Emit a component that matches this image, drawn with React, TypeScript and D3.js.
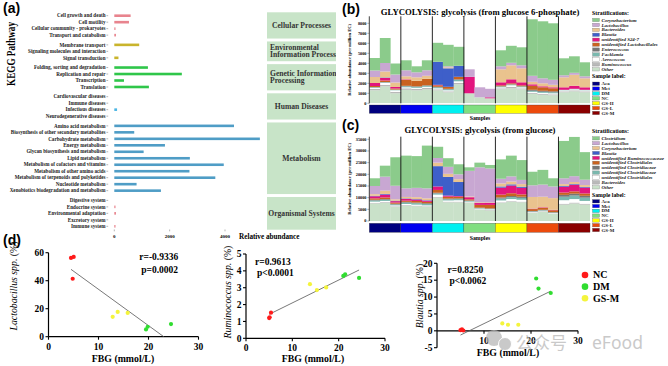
import React from "react";
import * as d3 from "d3";

const SERIF = "'Liberation Serif','DejaVu Serif',serif";
const SANS = "'Liberation Sans',Arial,sans-serif";

// ---------------- Panel (a) data ----------------
const keggClassLines = [
  ["Cellular Processes"],
  ["Environmental", "Information Processing"],
  ["Genetic Information", "Processing"],
  ["Human Diseases"],
  ["Metabolism"],
  ["Organismal Systems"],
];
const keggClassColors = ["#e8848e", "#c9b42c", "#2fc64a", "#4cb6e4", "#4f9dc6", "#e8848e"];
const keggPathways = [
  "Cell growth and death", "Cell motility", "Cellular community - prokaryotes", "Transport and catabolism",
  "Membrane transport", "Signaling molecules and interaction", "Signal transduction",
  "Folding, sorting and degradation", "Replication and repair", "Transcription", "Translation",
  "Cardiovascular diseases", "Immune diseases", "Infectious diseases", "Neurodegenerative diseases",
  "Amino acid metabolism", "Biosynthesis of other secondary metabolites", "Carbohydrate metabolism",
  "Energy metabolism", "Glycan biosynthesis and metabolism", "Lipid metabolism",
  "Metabolism of cofactors and vitamins", "Metabolism of other amino acids",
  "Metabolism of terpenoids and polyketides", "Nucleotide metabolism",
  "Xenobiotics biodegradation and metabolism",
  "Digestive system", "Endocrine system", "Environmental adaptation", "Excretory system", "Immune system",
];
const keggGroupIdx = [0, 0, 0, 0, 1, 1, 1, 2, 2, 2, 2, 3, 3, 3, 3, 4, 4, 4, 4, 4, 4, 4, 4, 4, 4, 4, 5, 5, 5, 5, 5];
const keggAbundance = [590, 530, 30, 60, 900, 0, 150, 1215, 2440, 350, 1250, 0, 0, 100, 0,
  4325, 720, 5260, 1830, 1060, 2730, 3955, 2715, 3650, 805, 1685, 0, 20, 60, 0, 10];
const keggTicks = [0, 2000, 4000];

// ---------------- Panels (b)/(c) shared ----------------
const sampleGroups = ["Aca", "Met", "DM", "NC", "GS-H", "GS-L", "GS-M"];
const sampleGroupColors = ["#00007f", "#0000f0", "#00f0f0", "#80de80", "#ffff00", "#ec4a0c", "#8b0000"];
const sampleIds = sampleGroups.flatMap((g) => [g + "1", g + "2", g + "3"]);
// stack colors, bottom -> top
const stackColors = ["#c9e1c9", "#b9b9b9", "#ffffff", "#7ab8ae", "#767676", "#c9621f", "#e2157e", "#3e5fc9", "#eac38e", "#c8a7d2", "#8bcb8b"];

// (b) glucose 6-phosphate, bottom -> top
const stratB = ["Other", "Ruminococcus", "Aerococcus", "Facklamia", "Enterococcus", "unidentified Lactobacillales",
  "unidentified S24-7", "Blautia", "Bacteroides", "Lactobacillus", "Corynebacterium"];
const otherB = [1300, 1700, 1000, 1350, 1300, 1400, 1300, 1100, 1900, 1000, 600, 500, 1400, 1500, 1400, 950, 850, 800, 1100, 1200, 1100];
const rumiB = [150, 150, 150, 150, 150, 150, 100, 100, 150, 0, 0, 0, 100, 150, 100, 100, 100, 100, 100, 100, 100];
const aeroB = [100, 200, 150, 100, 100, 100, 100, 100, 150, 0, 0, 0, 100, 150, 100, 100, 100, 100, 100, 100, 100];
const facklB = [50, 50, 50, 100, 100, 100, 100, 100, 150, 0, 0, 0, 100, 100, 100, 100, 100, 100, 50, 50, 50];
const enteroB = [30, 30, 30, 50, 50, 50, 50, 50, 50, 0, 0, 0, 0, 0, 0, 100, 100, 100, 0, 0, 0];
const lbalesB = [100, 150, 100, 600, 550, 650, 150, 200, 250, 0, 0, 0, 100, 100, 100, 400, 350, 300, 0, 0, 0];
const s24B = [300, 250, 150, 50, 0, 0, 50, 0, 0, 1650, 0, 100, 300, 400, 300, 150, 100, 100, 250, 300, 250];
const blautiaB = [0, 50, 0, 0, 0, 0, 2300, 1850, 1100, 0, 0, 0, 0, 0, 0, 0, 0, 0, 0, 0, 0];
const bactB = [600, 600, 450, 300, 350, 300, 0, 100, 0, 0, 0, 0, 1300, 1400, 1400, 250, 300, 250, 1000, 1100, 900];
const lactoB = [650, 850, 800, 600, 500, 550, 0, 100, 0, 750, 1000, 850, 300, 250, 300, 600, 500, 500, 200, 200, 200];
const coryneB = [1250, 2500, 1100, 1000, 600, 1000, 1900, 2150, 1900, 0, 0, 0, 1600, 1700, 1800, 5650, 5700, 5650, 1700, 1650, 1400];
const ticksB = [0, 1000, 2000, 3000, 4000, 5000, 6000, 7000, 8000];

// (c) glucose, bottom -> top
const stratC = ["Other", "Bacteroides", "unidentified Clostridiales", "unidentified Clostridiaceae", "unidentified Clostridiaceae",
  "unidentified Clostridiales", "unidentified Ruminococcaceae", "Blautia", "Corynebacterium", "Lactobacillus", "Clostridium"];
const otherC = [7500, 7800, 6000, 6500, 6300, 6000, 10000, 8000, 8000, 7800, 4800, 4500, 7700, 8200, 8000, 3500, 4000, 3000, 7000, 7500, 7000];
const bactC = [300, 300, 300, 300, 300, 300, 300, 300, 300, 200, 200, 200, 300, 300, 300, 200, 200, 200, 400, 400, 400];
const uClosWC = [500, 500, 400, 500, 400, 400, 1000, 500, 600, 300, 300, 300, 800, 900, 800, 200, 200, 200, 1500, 1500, 1200];
const uClaTC = [500, 500, 400, 600, 600, 600, 500, 500, 500, 300, 200, 200, 800, 800, 800, 200, 200, 200, 1500, 1500, 1400];
const uClaGC = [300, 300, 300, 300, 300, 300, 300, 300, 300, 200, 200, 200, 500, 500, 500, 200, 200, 200, 800, 800, 800];
const uClosOC = [600, 700, 500, 500, 700, 600, 1200, 800, 700, 500, 1200, 1500, 1200, 1200, 1000, 800, 900, 800, 1000, 1000, 1000];
const uRumC = [900, 1200, 600, 800, 600, 500, 1500, 500, 300, 900, 800, 900, 3000, 3300, 2800, 200, 200, 200, 2500, 2800, 2500];
const blautiaC = [200, 300, 200, 200, 200, 200, 8700, 8000, 6000, 0, 0, 0, 500, 500, 500, 0, 0, 0, 300, 300, 300];
const coryneC = [700, 1400, 600, 600, 800, 800, 1500, 1300, 1200, 300, 300, 200, 1300, 1200, 1100, 5000, 4500, 5000, 800, 900, 800];
const lactoC = [3500, 6000, 5800, 3700, 4000, 4300, 2000, 3000, 2100, 11000, 15000, 14500, 2000, 2200, 1800, 5000, 5200, 5000, 2500, 2500, 2300];
const clostC = [3300, 4700, 12200, 14000, 13600, 18300, 4800, 3700, 4300, 1500, 2000, 1500, 8300, 8900, 8500, 5800, 6300, 3500, 16000, 16900, 11800];
const ticksC = [0, 5000, 10000, 15000, 20000, 25000, 30000, 35000];

// ---------------- Panel (d) data ----------------
const fbgLacto = [4.5, 5.04, 4.84, 12.84, 13.84, 15.84, 19.5, 19.84, 24.5];
const lactoPct = [56.3, 57, 41.4, 14.2, 17.7, 17.0, 5.2, 7.1, 9.0];
const fbgRumi = [5.0, 5.1, 5.4, 13.8, 15.3, 17.3, 21.0, 21.4, 24.4];
const rumiPct = [1.2, 1.25, 1.52, 3.21, 2.86, 3.02, 3.7, 3.8, 3.58];
const fbgBlautia = [5.0, 5.3, 5.6, 13.9, 15.1, 17.3, 21.1, 21.6, 24.2];
const blautiaPct = [0.2, 0.4, 0.1, 2.2, 1.8, 1.8, 15.5, 12.5, 11.2];
const pointGroup = [0, 0, 0, 2, 2, 2, 1, 1, 1];
const dGroups = ["NC", "DM", "GS-M"];
const dGroupColors = ["#ff1a1a", "#30dd30", "#f4f43c"];

// ---------------- Components ----------------
function PanelA() {
  const x = d3.scaleLinear().domain([0, 4000]).range([114.3, 225]);
  const slots = keggPathways.map((_, i) => i + keggGroupIdx[i] * 0.5);
  const y = d3.scaleLinear().domain([0, 32.5]).range([15.7, 226.3]);
  const boxes = keggClassLines.map((lines, g) => {
    const idx = keggGroupIdx.map((k, i) => (k === g ? i : -1)).filter((i) => i >= 0);
    const y0 = y(slots[idx[0]]) - 3.4;
    const y1 = y(slots[idx[idx.length - 1]]) + 3.4;
    return { lines, y0, y1 };
  });
  return (
    <g fontFamily={SERIF}>
      <text x={3} y={13} fontFamily={SANS} fontWeight="bold" fontSize={14}>(a)</text>
      <text transform="translate(15,54) rotate(-90)" textAnchor="middle" fontWeight="bold" fontSize={11.5}
        textLength={64} lengthAdjust="spacingAndGlyphs">KEGG Pathway</text>
      {keggPathways.map((p, i) => (
        <g key={p + i}>
          <text x={105.5} y={y(slots[i]) + 1.7} textAnchor="end" fontSize={5.1} fontWeight="bold" fill="#222">{p}</text>
          <line x1={106.4} x2={108.2} y1={y(slots[i])} y2={y(slots[i])} stroke="#444" strokeWidth={0.4} />
          {keggAbundance[i] > 0 && (
            <rect x={x(0)} y={y(slots[i]) - 1.3} width={Math.max(x(keggAbundance[i]) - x(0), 1.2)} height={2.6}
              fill={keggClassColors[keggGroupIdx[i]]} />
          )}
        </g>
      ))}
      {keggTicks.map((t) => (
        <g key={t}>
          <line x1={x(t)} x2={x(t)} y1={229.5} y2={231.3} stroke="#444" strokeWidth={0.4} />
          <text x={x(t)} y={237.6} textAnchor="middle" fontSize={5} fontWeight="bold">{t}</text>
        </g>
      ))}
      <text x={239} y={238.8} fontSize={7.2} fontWeight="bold">Relative abundance</text>
      <clipPath id="boxclip"><rect x={267} y={0} width={69} height={240} /></clipPath>
      <g clipPath="url(#boxclip)">
        {boxes.map((b, g) => {
          const yc = (b.y0 + b.y1) / 2;
          return (
            <g key={g}>
              <rect x={267} y={b.y0} width={69} height={b.y1 - b.y0} fill="#c8e4c8" />
              {b.lines.length === 1 ? (
                <text x={301.5} y={yc + 2.6} textAnchor="middle" fontSize={7.6} fontWeight="bold" fill="#333">{b.lines[0]}</text>
              ) : (
                b.lines.map((l, k) => (
                  <text key={k} x={270} y={yc + 2.6 + (k - 0.5) * 7} fontSize={7.6} fontWeight="bold" fill="#333">{l}</text>
                ))
              )}
            </g>
          );
        })}
      </g>
    </g>
  );
}

type StackCfg = {
  id: string;
  letter: string;
  letterY: number;
  title: string;
  titleY: number;
  layers: number[][];
  names: string[];
  y: d3.ScaleLinear<number, number>;
  top: number;
  ticks: number[];
  stripY: number;
  stripH: number;
  samplesY: number;
  legTitleY: number;
  legItemY0: number;
  legItemStep: number;
  sampleTitleY: number;
  sampleItemY0: number;
  sampleItemStep: number;
};

function StackPanel({ cfg }: { cfg: StackCfg }) {
  const x = d3.scaleBand().domain(sampleIds).range([369.3, 590]).padding(0);
  const rows = sampleIds.map((id, i) => {
    const o: any = { id };
    cfg.layers.forEach((l, k) => (o["k" + k] = l[i]));
    return o;
  });
  const series = d3.stack<any>().keys(cfg.layers.map((_, k) => "k" + k))(rows);
  const y = cfg.y;
  const y0 = y(0);
  const gw = (590 - 369.3) / sampleGroups.length;
  const legendOrder = d3.range(cfg.names.length).reverse();
  return (
    <g fontFamily={SERIF}>
      <text x={342} y={cfg.letterY} fontFamily={SANS} fontWeight="bold" fontSize={14}>{cfg.letter}</text>
      <text x={480} y={cfg.titleY} textAnchor="middle" fontWeight="bold" fontSize={8.7}>{cfg.title}</text>
      <clipPath id={"clip" + cfg.id}><rect x={369.3} y={cfg.top} width={220.7} height={y0 - cfg.top} /></clipPath>
      <g clipPath={`url(#clip${cfg.id})`}>
        {series.map((s, k) => (
          <g key={k} fill={stackColors[k]}>
            {s.map((d, i) => (
              d[1] - d[0] > 0 ? (
                <rect key={i} x={x(sampleIds[i])!} width={x.bandwidth() + 0.3} y={y(d[1])} height={y(d[0]) - y(d[1])} />
              ) : null
            ))}
          </g>
        ))}
      </g>
      {d3.range(1, sampleGroups.length).map((g) => (
        <line key={g} x1={369.3 + g * gw} x2={369.3 + g * gw} y1={cfg.top} y2={y0} stroke="#111" strokeWidth={0.9} />
      ))}
      <line x1={369.3} x2={369.3} y1={cfg.top} y2={y0} stroke="#111" strokeWidth={0.8} />
      {cfg.ticks.map((t) => (
        <g key={t}>
          <line x1={367.3} x2={369.3} y1={y(t)} y2={y(t)} stroke="#333" strokeWidth={0.4} />
          <text x={366.5} y={y(t) + 1.4} textAnchor="end" fontSize={4.3} fontWeight="bold">{t}</text>
        </g>
      ))}
      <text transform={`translate(351,${(cfg.top + y0) / 2}) rotate(-90)`} textAnchor="middle" fontSize={4.6} fontWeight="bold">
        Relative abundance (per million EC)
      </text>
      {sampleGroups.map((g, i) => (
        <rect key={g} x={369.3 + i * gw} y={cfg.stripY} width={gw} height={cfg.stripH} fill={sampleGroupColors[i]} stroke="#333" strokeWidth={0.3} />
      ))}
      <text x={480} y={cfg.samplesY} textAnchor="middle" fontSize={5.8} fontWeight="bold">Samples</text>
      <text x={592} y={cfg.legTitleY} fontSize={5.8} fontWeight="bold">Stratifications:</text>
      {legendOrder.map((k, j) => {
        const cy = cfg.legItemY0 + j * cfg.legItemStep;
        return (
          <g key={k}>
            <rect x={592.5} y={cy - 1.7} width={7} height={3.4} fill={stackColors[k]} stroke="#777" strokeWidth={0.3} />
            <text x={601.5} y={cy + 1.6} fontSize={4.9} fontStyle="italic" fontWeight="bold" fill="#222">{cfg.names[k]}</text>
          </g>
        );
      })}
      <text x={592} y={cfg.sampleTitleY} fontSize={5.8} fontWeight="bold">Sample label:</text>
      {sampleGroups.map((g, j) => {
        const cy = cfg.sampleItemY0 + j * cfg.sampleItemStep;
        return (
          <g key={g}>
            <rect x={592.5} y={cy - 1.7} width={7} height={3.4} fill={sampleGroupColors[j]} stroke="#555" strokeWidth={0.3} />
            <text x={601.5} y={cy + 1.6} fontSize={4.9} fontWeight="bold" fill="#222">{g}</text>
          </g>
        );
      })}
    </g>
  );
}

type ScatterCfg = {
  xs: number[];
  ys: number[];
  xRange: [number, number];
  yDomain: [number, number];
  yRange: [number, number];
  yTicks: number[];
  xTicks: number[];
  xLabelY: number;
  fbgX: number;
  fbgY: number;
  italic: string;
  yLabelX: number;
  yLabelY: number;
  rText: string;
  pText: string;
  rX: number;
  rY: number;
  pY: number;
};

function Scatter({ c }: { c: ScatterCfg }) {
  const x = d3.scaleLinear().domain([0, 30]).range(c.xRange);
  const y = d3.scaleLinear().domain(c.yDomain).range(c.yRange);
  const mx = d3.mean(c.xs)!;
  const my = d3.mean(c.ys)!;
  const b = d3.sum(c.xs.map((v, i) => (v - mx) * (c.ys[i] - my))) / d3.sum(c.xs.map((v) => (v - mx) ** 2));
  const a = my - b * mx;
  let x1 = d3.min(c.xs)!;
  let x2 = d3.max(c.xs)!;
  if (a + b * x2 < c.yDomain[0]) x2 = (c.yDomain[0] - a) / b;
  if (a + b * x1 < c.yDomain[0]) x1 = (c.yDomain[0] - a) / b;
  const axisY = y(Math.max(0, c.yDomain[0]));
  const ax = x(0);
  return (
    <g fontFamily={SERIF}>
      <line x1={ax} x2={ax} y1={y(c.yDomain[0])} y2={y(c.yDomain[1])} stroke="#000" strokeWidth={1.2} />
      <line x1={ax} x2={x(30)} y1={axisY} y2={axisY} stroke="#000" strokeWidth={1.2} />
      {c.yTicks.map((t) => (
        <g key={t}>
          <line x1={ax - 3} x2={ax} y1={y(t)} y2={y(t)} stroke="#000" strokeWidth={1.1} />
          <text x={ax - 4.5} y={y(t) + 3.2} textAnchor="end" fontSize={9.5} fontWeight="bold">{t}</text>
        </g>
      ))}
      {c.xTicks.map((t) => (
        <g key={t}>
          <line x1={x(t)} x2={x(t)} y1={axisY} y2={axisY + 3} stroke="#000" strokeWidth={1.1} />
          <text x={x(t)} y={c.xLabelY} textAnchor="middle" fontSize={9.5} fontWeight="bold">{t}</text>
        </g>
      ))}
      <text x={c.fbgX} y={c.fbgY} textAnchor="middle" fontSize={9.8} fontWeight="bold">FBG (mmol/L)</text>
      <text transform={`translate(${c.yLabelX},${c.yLabelY}) rotate(-90)`} textAnchor="middle" fontSize={9.8}>
        <tspan fontStyle="italic">{c.italic}</tspan>
        <tspan> (%)</tspan>
      </text>
      <line x1={x(x1)} x2={x(x2)} y1={y(a + b * x1)} y2={y(a + b * x2)} stroke="#555" strokeWidth={0.8} />
      {c.xs.map((v, i) => (
        <circle key={i} cx={x(v)} cy={y(c.ys[i])} r={2.1} fill={dGroupColors[pointGroup[i]]} />
      ))}
      <text x={c.rX} y={c.rY} fontSize={9.5} fontWeight="bold">{c.rText}</text>
      <text x={c.rX + 2} y={c.pY} fontSize={9.5} fontWeight="bold">{c.pText}</text>
    </g>
  );
}

export default function App() {
  const cfgB: StackCfg = {
    id: "b", letter: "(b)", letterY: 13.5,
    title: "GLYCOLYSIS: glycolysis (from glucose 6-phosphate)", titleY: 14.6,
    layers: [otherB, rumiB, aeroB, facklB, enteroB, lbalesB, s24B, blautiaB, bactB, lactoB, coryneB],
    names: stratB,
    y: d3.scaleLinear().domain([0, 8000]).range([103.3, 23.3]),
    top: 16.3, ticks: ticksB, stripY: 105, stripH: 8.3, samplesY: 119.5,
    legTitleY: 15.3, legItemY0: 20, legItemStep: 4.93,
    sampleTitleY: 78.3, sampleItemY0: 83.7, sampleItemStep: 4.88,
  };
  const cfgC: StackCfg = {
    id: "c", letter: "(c)", letterY: 130,
    title: "GLYCOLYSIS: glycolysis (from glucose)", titleY: 133,
    layers: [otherC, bactC, uClosWC, uClaTC, uClaGC, uClosOC, uRumC, blautiaC, coryneC, lactoC, clostC],
    names: stratC,
    y: d3.scaleLinear().domain([0, 35000]).range([221, 139.3]),
    top: 136.7, ticks: ticksC, stripY: 223.3, stripH: 9, samplesY: 240,
    legTitleY: 133, legItemY0: 138.3, legItemStep: 4.9,
    sampleTitleY: 197.3, sampleItemY0: 201.3, sampleItemStep: 4.78,
  };
  const s1: ScatterCfg = {
    xs: fbgLacto, ys: lactoPct, xRange: [48.5, 198.5], yDomain: [0, 60], yRange: [336.7, 252.7],
    yTicks: [0, 20, 40, 60], xTicks: [0, 10, 20, 30], xLabelY: 349.8, fbgX: 123, fbgY: 361.5,
    italic: "Lactobacillus spp.", yLabelX: 16.5, yLabelY: 286,
    rText: "r=-0.9336", pText: "p=0.0002", rX: 139.3, rY: 260, pY: 272.7,
  };
  const s2: ScatterCfg = {
    xs: fbgRumi, ys: rumiPct, xRange: [246, 385], yDomain: [0, 5], yRange: [338.3, 254],
    yTicks: [0, 1, 2, 3, 4, 5], xTicks: [0, 10, 20, 30], xLabelY: 351.3, fbgX: 313, fbgY: 362.3,
    italic: "Ruminococcus spp.", yLabelX: 230.5, yLabelY: 292,
    rText: "r=0.9613", pText: "p<0.0001", rX: 255, rY: 264.7, pY: 275.7,
  };
  const s3: ScatterCfg = {
    xs: fbgBlautia, ys: blautiaPct, xRange: [437, 578], yDomain: [-5, 20], yRange: [347.7, 263.3],
    yTicks: [-5, 0, 5, 10, 15, 20], xTicks: [10, 20, 30], xLabelY: 343.8, fbgX: 508, fbgY: 356.3,
    italic: "Blautia spp.", yLabelX: 422.5, yLabelY: 296,
    rText: "r=0.8250", pText: "p<0.0062", rX: 447.5, rY: 272.5, pY: 283.7,
  };
  return (
    <svg width={668} height={366} viewBox="0 0 668 366" style={{ position: "absolute", left: 0, top: 0 }}>
      <rect x={0} y={0} width={668} height={366} fill="#ffffff" />
      <PanelA />
      <StackPanel cfg={cfgB} />
      <StackPanel cfg={cfgC} />
      <text x={3} y={245} fontFamily={SANS} fontWeight="bold" fontSize={14}>(d)</text>
      <Scatter c={s1} />
      <Scatter c={s2} />
      <Scatter c={s3} />
      <g fontFamily={SERIF}>
        {dGroups.map((g, i) => (
          <g key={g}>
            <circle cx={585} cy={275 + i * 11.65} r={3.3} fill={dGroupColors[i]} />
            <text x={593} y={278.4 + i * 11.65} fontSize={10} fontWeight="bold">{g}</text>
          </g>
        ))}
      </g>
      <g opacity={0.75} fill="#b8b8b8">
        <circle cx={494} cy={338} r={8} />
        <circle cx={505} cy={344} r={6.5} stroke="#ffffff" strokeWidth={1} />
        <text x={516} y={349} fontFamily="'Noto Sans CJK SC'" fontSize={17}>公众号</text>
        <text x={574} y={348} fontFamily="'Noto Sans'" fontSize={14}>·</text>
        <text x={592} y={349} fontFamily="'Noto Sans'" fontSize={17.5}>eFood</text>
      </g>
    </svg>
  );
}
